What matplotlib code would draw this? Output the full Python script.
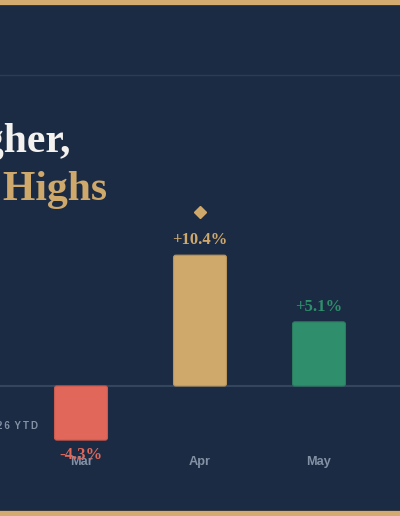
import matplotlib
matplotlib.use("Agg")
import matplotlib.pyplot as plt
import matplotlib.transforms as mtransforms
from matplotlib.patches import FancyBboxPatch, Rectangle

# data
months = ["Mar", "Apr", "May"]
changes = [-4.3, 10.4, 5.1]
labels = ["-4.3%", "+10.4%", "+5.1%"]
bar_colors = ["#e0675a", "#cfa86b", "#2f8f6c"]
edge_colors = ["#c95a4e", "#b8935a", "#2a7c5e"]
label_colors = ["#e0675a", "#cfa86b", "#2f8f6c"]

BG = "#1b2b43"
GOLD = "#d3aa70"
W, H = 400, 516

fig = plt.figure(figsize=(W / 100, H / 100), dpi=100, facecolor=BG)
ax = fig.add_axes([0, 0, 1, 1])
ax.set_facecolor(BG)
ax.axis("off")

px_x = 119.0   # pixels per category
px_y = 12.58   # pixels per percent
ax.set_xlim(-81 / px_x, (W - 81) / px_x)
ax.set_ylim(-(H - 386) / px_y, 386 / px_y)

# baseline
ax.axhline(0, color="#34465e", lw=1.5, zorder=1)

bw = 0.445
aspect = px_x / px_y
for i, v in enumerate(changes):
    y0 = min(0, v)
    p = FancyBboxPatch((i - bw / 2, y0), bw, abs(v),
                       boxstyle="round,pad=0,rounding_size=0.02",
                       mutation_aspect=aspect,
                       fc=bar_colors[i], ec=edge_colors[i], lw=0.8, zorder=2)
    ax.add_patch(p)
    off = 11 if v > 0 else -10.5
    ax.annotate(labels[i], (i, v), xytext=(0, off), textcoords="offset points",
                ha="center", va="center", color=label_colors[i],
                fontsize=12, fontweight="bold", family="Liberation Serif", zorder=4)

# diamond marker above the peak
imax = changes.index(max(changes))
dtrans = ax.transData + mtransforms.ScaledTranslation(0, 43 / 100, fig.dpi_scale_trans)
ax.plot([imax], [changes[imax]], marker="D", ms=6.5, color="#cfa86b",
        transform=dtrans, zorder=4)

# month labels
lab_trans = mtransforms.blended_transform_factory(ax.transData, ax.transAxes)
for i, m in enumerate(months):
    ax.text(i, 1 - 462 / H, m, transform=lab_trans, ha="center", va="center",
            color="#8491a4", fontsize=9.2, fontweight="bold",
            family="Liberation Sans", zorder=3)

# title (runs off the left edge)
fig.text(70 / W, 1 - 152 / H, "Climbing Higher,", ha="right", va="baseline",
         color="#f4f2ee", fontsize=30, fontweight="bold", family="Liberation Serif")
fig.text(107 / W, 1 - 200 / H, "Reaching New Highs", ha="right", va="baseline",
         color="#cfa86b", fontsize=30, fontweight="bold", family="Liberation Serif")

# side note
fig.text(38 / W, 1 - 426 / H, "2\u20090\u20092\u20096\u2009 Y\u2009T\u2009D", ha="right",
         va="center", color="#8491a4", fontsize=7.0, fontweight="semibold",
         family="Liberation Sans")

# divider under header
fig.add_artist(plt.Line2D([0, 1], [1 - 75 / H, 1 - 75 / H], transform=fig.transFigure,
                          color="#2b3c55", lw=1))

# gold frame top and bottom
fig.add_artist(Rectangle((0, 1 - 5 / H), 1, 5 / H, transform=fig.transFigure,
                         fc=GOLD, ec="none"))
fig.add_artist(Rectangle((0, 1 - 6 / H), 1, 1 / H, transform=fig.transFigure,
                         fc="#3a3a3e", ec="none"))
fig.add_artist(Rectangle((0, 0), 1, 5 / H, transform=fig.transFigure,
                         fc=GOLD, ec="none"))
fig.add_artist(Rectangle((0, 5 / H), 1, 1 / H, transform=fig.transFigure,
                         fc="#3a3a3e", ec="none"))

fig.savefig("out.png", dpi=100, facecolor=BG)
